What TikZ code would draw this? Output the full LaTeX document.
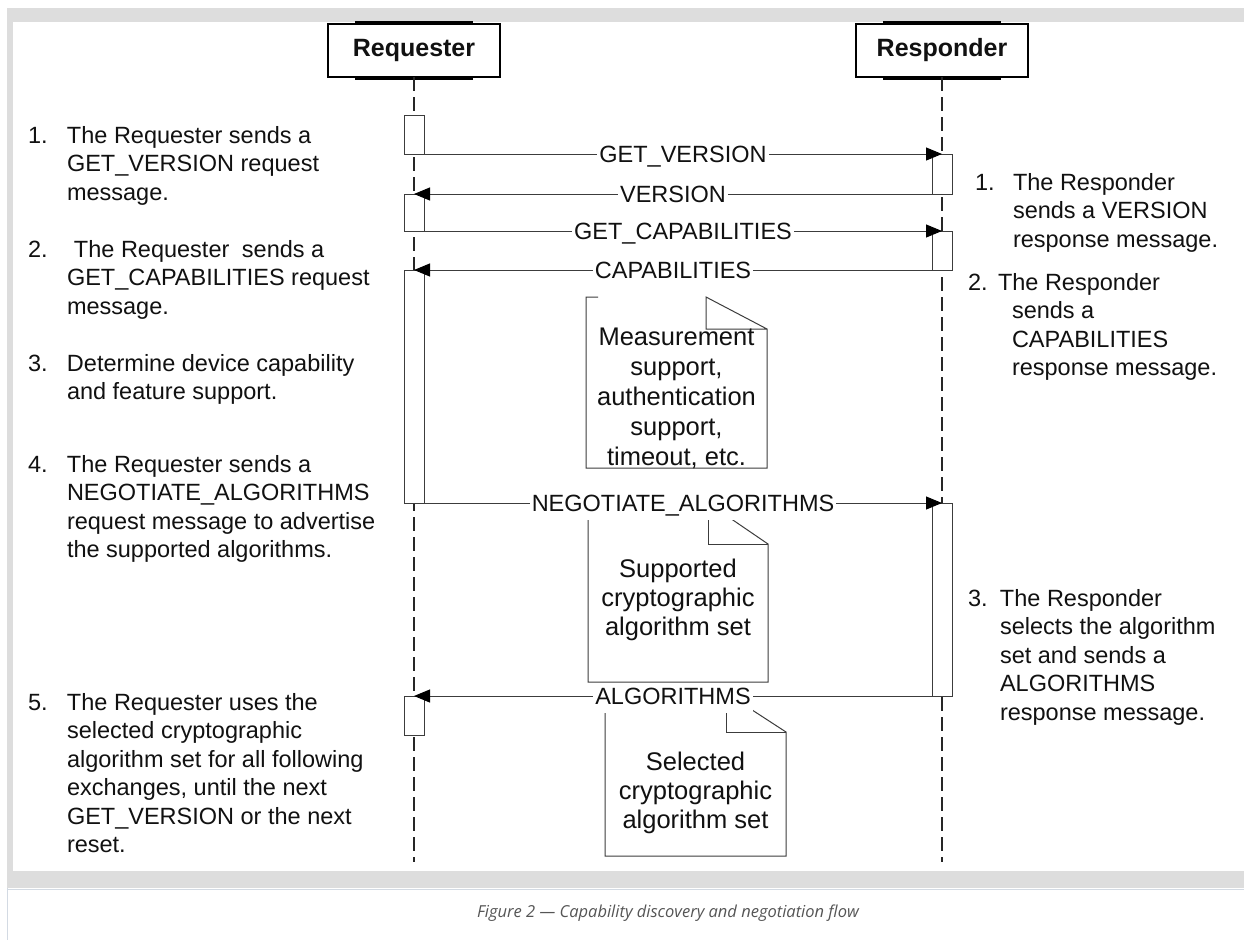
\documentclass[tikz,border=0pt]{standalone}
\usepackage{fontspec}
\setmainfont{Liberation Sans}
\newfontfamily\captionfont{Open Sans}
\usetikzlibrary{arrows.meta}

\definecolor{band}{HTML}{DDDDDD}
\definecolor{seam}{HTML}{D3DAE3}
\definecolor{ink}{HTML}{111111}
\definecolor{wire}{HTML}{3C3C3C}
\definecolor{capgray}{HTML}{555555}

\begin{document}
\begin{tikzpicture}[x=1pt,y=-1pt,
  every node/.style={inner sep=0pt, outer sep=0pt, text=ink},
  actor/.style={draw=black, line width=2pt, fill=white, minimum width=172pt,
    minimum height=53pt, font=\fontsize{25}{30}\selectfont\bfseries},
  lifeline/.style={draw=black!85, line width=2pt, dash pattern=on 14pt off 6pt},
  act/.style={draw=wire, line width=1pt, fill=white, minimum width=20pt},
  msg/.style={draw=wire, line width=1pt,
    -{Triangle[length=16pt,width=13pt,color=black,fill=black]}},
  lbl/.style={fill=white, font=\fontsize{23.5}{28.5}\selectfont, anchor=base,
    yshift=-8.5pt, text height=20.5pt, text depth=8pt, inner xsep=2pt, inner ysep=0pt},
  body/.style={anchor=base west, font=\fontsize{23.5}{28.5}\selectfont},
  notebody/.style={anchor=base, font=\fontsize{25.5}{29.3}\selectfont},
  notepath/.style={draw=wire, line width=1pt},
]
\useasboundingbox (0,0) rectangle (1244,940);
\fill[white] (0,0) rectangle (1244,940);

% page frame
\fill[band] (7,8) rectangle (1244,22);
\fill[band] (7,8) rectangle (13,888);
\fill[band] (7,871) rectangle (1244,888);
\draw[seam, line width=1pt] (7.5,889) -- (1244,889);
\draw[seam, line width=1pt] (7.5,888) -- (7.5,940);

% participants
\node[actor] (req) at (414,50.5) {Requester};
\node[actor] (resp) at (942,50.5) {Responder};
\foreach \p in {req,resp}{
  \draw[line width=3.5pt] ([shift={(27,-1)}]\p.north west) -- ([shift={(-27,-1)}]\p.north east);
  \draw[line width=3.5pt] ([shift={(27,1)}]\p.south west) -- ([shift={(-27,1)}]\p.south east);
}

% lifelines
\coordinate (reqEnd) at (414,862);
\coordinate (respEnd) at (942,862);
\draw[lifeline] (req.south) -- (reqEnd);
\draw[lifeline] (resp.south) -- (respEnd);

% activation bars
\node[act, minimum height=39pt] (qa1) at (414,134.5) {};
\node[act, minimum height=37pt] (qa2) at (414,212.5) {};
\node[act, minimum height=233pt] (qa3) at (414,386.5) {};
\node[act, minimum height=39pt] (qa4) at (414,715.5) {};
\node[act, minimum height=40pt] (ra1) at (942,174) {};
\node[act, minimum height=39pt] (ra2) at (942,250.5) {};
\node[act, minimum height=193pt] (ra3) at (942,599.5) {};

% notes
\draw[notepath] (598,297) -- (586,297) -- (586,468) -- (767,468) -- (767,329)
  -- (706,297) -- (706,329) -- (767,329);
\draw[notepath] (588,503) -- (708,503) -- (768,544) -- (768,682) -- (588,682) -- cycle;
\draw[notepath] (708,503) -- (708,544) -- (768,544);
\draw[notepath] (605,693) -- (726,693) -- (786,732) -- (786,856) -- (605,856) -- cycle;
\draw[notepath] (726,693) -- (726,732) -- (786,732);

% messages
\draw[msg] (qa1.south east) -- node[lbl] (m1) {GET\_VERSION} (ra1.north);
\draw[msg] (ra1.south west) -- node[lbl] (m2) {VERSION} (qa2.north);
\draw[msg] (qa2.south east) -- node[lbl] (m3) {GET\_CAPABILITIES} (ra2.north);
\draw[msg] (ra2.south west) -- node[lbl] (m4) {CAPABILITIES} (qa3.north);
\draw[msg] (qa3.south east) -- node[lbl] (m5) {NEGOTIATE\_ALGORITHMS} (ra3.north);
\draw[msg] (ra3.south west) -- node[lbl] (m6) {ALGORITHMS} (qa4.north);

% note texts
\node[notebody] (n1) at (676.5,345) {\fontsize{25.5}{30}\selectfont\begin{tabular}[t]{@{}c@{}}Measurement\\support,\\authentication\\support,\\timeout, etc.\end{tabular}};
\node[notebody] (n2) at (678,577) {\begin{tabular}[t]{@{}c@{}}Supported\\cryptographic\\algorithm set\end{tabular}};
\node[notebody] (n3) at (695.5,770) {\begin{tabular}[t]{@{}c@{}}Selected\\cryptographic\\algorithm set\end{tabular}};

% requester steps
\node[body] (s1) at (28,143) {\begin{tabular}[t]{@{}p{39pt}@{}l@{}}1. & The Requester sends a\\ & GET\_VERSION request\\ & message.\end{tabular}};
\node[body] (s2) at (28,257) {\begin{tabular}[t]{@{}p{39pt}@{}l@{}}2. & \hspace*{7pt}The Requester\hspace*{6pt} sends a\\ & GET\_CAPABILITIES request\\ & message.\end{tabular}};
\node[body] (s3) at (28,371) {\begin{tabular}[t]{@{}p{39pt}@{}l@{}}3. & Determine device capability\\ & and feature support.\end{tabular}};
\node[body] (s4) at (28,472) {\begin{tabular}[t]{@{}p{39pt}@{}l@{}}4. & The Requester sends a\\ & NEGOTIATE\_ALGORITHMS\\ & request message to advertise\\ & the supported algorithms.\end{tabular}};
\node[body] (s5) at (28,710) {\begin{tabular}[t]{@{}p{39pt}@{}l@{}}5. & The Requester uses the\\ & selected cryptographic\\ & algorithm set for all following\\ & exchanges, until the next\\ & GET\_VERSION or the next\\ & reset.\end{tabular}};

% responder steps
\node[body] (r1) at (975,190) {\begin{tabular}[t]{@{}p{38pt}@{}l@{}}1. & The Responder\\ & sends a VERSION\\ & response message.\end{tabular}};
\node[body] (r2) at (968,290) {\begin{tabular}[t]{@{}p{30pt}@{}l@{}}2. & The Responder\\ & \hspace*{14pt}sends a\\ & \hspace*{14pt}CAPABILITIES\\ & \hspace*{14pt}response message.\end{tabular}};
\node[body] (r3) at (968,606) {\begin{tabular}[t]{@{}p{32pt}@{}l@{}}3. & The Responder\\ & selects the algorithm\\ & set and sends a\\ & ALGORITHMS\\ & response message.\end{tabular}};

% caption
\node[font=\captionfont\itshape\fontsize{16.5}{20}\selectfont, text=capgray] (cap) at (668,913)
  {Figure 2 — Capability discovery and negotiation flow};
\end{tikzpicture}
\end{document}
